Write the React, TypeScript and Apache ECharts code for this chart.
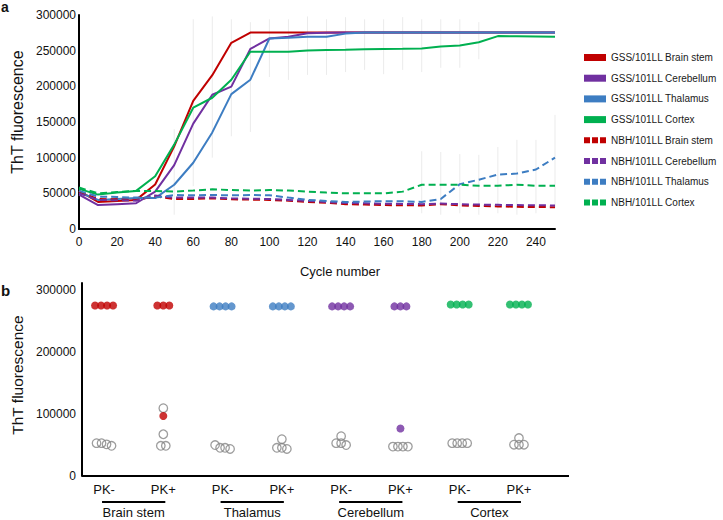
import React, { useEffect, useRef } from "react";
import * as echarts from "echarts";

// ---------- Panel a: ThT fluorescence vs cycle number ----------
const cycles = [0, 10, 20, 30, 40, 50, 60, 70, 80, 90, 100, 110, 120, 130, 140, 150, 160, 170, 180, 190, 200, 210, 220, 230, 240, 250];

const gssBrainStem = [53400, 37900, 39400, 40800, 62400, 115900, 179600, 215600, 261000, 275300, 275300, 275300, 275300, 275300, 275300, 275300, 275300, 275300, 275300, 275300, 275300, 275300, 275300, 275300, 275300, 275300];
const gssCerebellum = [48200, 33500, 34800, 36100, 52400, 89600, 147700, 188200, 199600, 252400, 267100, 269600, 274300, 275000, 275300, 275300, 275300, 275300, 275300, 275300, 275300, 275300, 275300, 275300, 275300, 275300];
const gssThalamus = [51400, 40800, 42100, 43300, 43300, 62000, 92900, 135400, 189100, 209300, 267100, 268100, 269600, 269600, 273900, 275300, 275300, 275300, 275300, 275300, 275300, 275300, 275300, 275300, 275300, 275300];
const gssCortex = [56300, 48200, 51000, 53400, 73900, 118300, 170000, 184000, 209300, 248400, 248400, 248400, 250400, 251000, 251400, 251900, 252400, 252600, 252900, 255700, 257100, 261900, 270400, 270300, 270000, 269600];

const nbhBrainStem = [52400, 42100, 41600, 40800, 45800, 42100, 42100, 43000, 41600, 41200, 40800, 39700, 37900, 36600, 34800, 34200, 33500, 33300, 33000, 34800, 33000, 32400, 31700, 31100, 30800, 30600];
const nbhCerebellum = [50000, 40800, 40300, 39700, 46900, 44000, 44000, 44000, 43000, 42500, 42100, 40800, 39400, 37900, 36600, 36100, 35300, 35200, 34800, 35700, 34800, 34200, 33900, 33500, 33300, 33000];
const nbhThalamus = [53400, 45400, 44900, 44000, 44000, 47600, 47300, 47600, 47300, 47600, 47300, 44000, 40800, 39400, 37900, 38500, 39000, 39000, 37900, 42100, 62900, 69100, 76300, 77700, 83400, 100000];
const nbhCortex = [58100, 50000, 51700, 53400, 53400, 52400, 53900, 55700, 54600, 53900, 54600, 53900, 52400, 51000, 50000, 50000, 50000, 52400, 62000, 62000, 62000, 60600, 60600, 62000, 60600, 60600];

// faint error bars (cycle, low, high)
const errCycles = [50, 60, 70, 80, 90, 100, 110, 120, 130, 140, 150, 160, 170, 180, 190, 200, 210, 180, 190, 200, 210, 220, 230, 240, 250];
const errLow = [20000, 60000, 100000, 130000, 136000, 213000, 209000, 216000, 216000, 220000, 223000, 217000, 223000, 220000, 226000, 226000, 238000, 22000, 20000, 22000, 20000, 22000, 20000, 22000, 30000];
const errHigh = [140000, 294000, 298000, 294000, 290000, 294000, 294000, 298000, 294000, 297000, 294000, 294000, 297000, 294000, 294000, 294000, 290000, 109000, 108000, 105000, 104000, 115000, 125000, 125000, 160000];

const xTicksTop = [0, 20, 40, 60, 80, 100, 120, 140, 160, 180, 200, 220, 240];

// ---------- Panel b: end-point ThT fluorescence ----------
const regions = ["Brain stem", "Thalamus", "Cerebellum", "Cortex"];
const treatments = ["PK-", "PK+"];
const gssDots = [
  [275700, 275700, 275700, 275700],
  [275700, 275700, 275700, 97000],
  [274200, 274200, 274200, 274200],
  [274200, 274200, 274200, 274200],
  [274200, 274200, 274200, 274200],
  [274200, 274200, 274200, 76900],
  [277200, 277200, 277200, 277200],
  [277200, 277200, 277200, 277200],
];
const nbhDots = [
  [48800, 53100, 53100, 51200],
  [109600, 67500, 48800, 48800],
  [45600, 50000, 45600, 43700],
  [45600, 59500, 45600, 43700],
  [53100, 64400, 53100, 50000],
  [47500, 47500, 47500, 47500],
  [53100, 53100, 53100, 53100],
  [50600, 61400, 50600, 50600],
];

const RED = "#C00000";
const PURPLE = "#7030A0";
const BLUE = "#3D7DC2";
const GREEN = "#00B050";
const regionColors = [RED, BLUE, PURPLE, GREEN];

const SANS = "'Liberation Sans', Arial, sans-serif";

function swarm(values: number[], cat: number, spacing: number, tol: number, color?: string) {
  const sorted = values.slice().sort((a, b) => b - a);
  const clusters: number[][] = [];
  for (const v of sorted) {
    const c = clusters.find((cl) => Math.abs(cl[0] - v) <= tol);
    if (c) c.push(v);
    else clusters.push([v]);
  }
  const out: any[] = [];
  clusters.forEach((cl) =>
    cl.forEach((v, i) => {
      const item: any = { value: [cat, v], symbolOffset: [(i - (cl.length - 1) / 2) * spacing, 0] };
      if (color) item.itemStyle = { color };
      out.push(item);
    })
  );
  return out;
}

export default function App() {
  const ref = useRef<HTMLDivElement>(null);
  useEffect(() => {
    document.body.style.margin = "0";
    const chart = echarts.init(ref.current!, null, { renderer: "svg" });

    const lineDefs = [
      { name: "GSS/101LL Brain stem", data: gssBrainStem, color: RED, dashed: false },
      { name: "GSS/101LL Cerebellum", data: gssCerebellum, color: PURPLE, dashed: false },
      { name: "GSS/101LL Thalamus", data: gssThalamus, color: BLUE, dashed: false },
      { name: "GSS/101LL Cortex", data: gssCortex, color: GREEN, dashed: false },
      { name: "NBH/101LL Brain stem", data: nbhBrainStem, color: RED, dashed: true },
      { name: "NBH/101LL Cerebellum", data: nbhCerebellum, color: PURPLE, dashed: true },
      { name: "NBH/101LL Thalamus", data: nbhThalamus, color: BLUE, dashed: true },
      { name: "NBH/101LL Cortex", data: nbhCortex, color: GREEN, dashed: true },
    ];

    const dashIcon = "path://M0 0H6V6H0Z M8 0H14V6H8Z M16 0H22V6H16Z";

    const catNames: string[] = [];
    regions.forEach((r) => treatments.forEach((t) => catNames.push(r + " " + t)));

    const gssScatter: any[] = [];
    gssDots.forEach((vals, i) => gssScatter.push(...swarm(vals, i, 6, 8000, regionColors[Math.floor(i / 2)])));
    const nbhScatter: any[] = [];
    nbhDots.forEach((vals, i) => nbhScatter.push(...swarm(vals, i, 5, 7000)));

    const axisLineStyle = { lineStyle: { color: "#000", width: 2 } };
    const plain = (v: number) => String(v);

    const option: any = {
      animation: false,
      backgroundColor: "#fff",
      textStyle: { fontFamily: SANS },
      legend: {
        orient: "vertical",
        left: 584,
        top: 51,
        padding: 0,
        itemWidth: 22,
        itemHeight: 7,
        itemGap: 7.7,
        textStyle: { fontSize: 10, color: "#1a1a1a", fontFamily: SANS, lineHeight: 13 },
        data: lineDefs.map((d) => ({ name: d.name, icon: d.dashed ? dashIcon : "rect" })),
      },
      grid: [
        { left: 79, top: 15, width: 476, height: 214 },
        { left: 74.4, top: 283, width: 474.2, height: 193 },
      ],
      xAxis: [
        {
          type: "value",
          gridIndex: 0,
          min: 0,
          max: 250,
          interval: 20,
          axisLine: axisLineStyle,
          axisTick: { show: false },
          splitLine: { show: false },
          axisLabel: { fontSize: 12, color: "#111", margin: 7, showMaxLabel: false,
            formatter: (v: number) => (xTicksTop.indexOf(v) >= 0 ? String(v) : "") },
          name: "Cycle number",
          nameLocation: "middle",
          nameGap: 36,
          nameTextStyle: { fontSize: 13, color: "#111", padding: [0, 0, 0, 46] },
        },
        {
          type: "category",
          gridIndex: 1,
          data: catNames,
          position: "bottom",
          axisLine: { show: false },
          axisTick: { show: false },
          axisLabel: { fontSize: 13, color: "#111", margin: 7, interval: 0,
            formatter: (v: string) => v.split(" ").pop() },
        },
        {
          type: "category",
          gridIndex: 1,
          data: regions,
          position: "bottom",
          axisLine: { show: false },
          axisTick: { show: false },
          axisLabel: { fontSize: 13, color: "#111", margin: 30, interval: 0 },
        },
      ],
      yAxis: [
        {
          type: "value",
          gridIndex: 0,
          min: 0,
          max: 300000,
          interval: 50000,
          axisLine: { show: true, ...axisLineStyle },
          axisTick: { show: false },
          splitLine: { show: false },
          axisLabel: { fontSize: 12, color: "#111", margin: 3, formatter: plain },
          name: "ThT fluorescence",
          nameLocation: "middle",
          nameGap: 47,
          nameTextStyle: { fontSize: 16, color: "#111", padding: [0, 0, 0, 20] },
        },
        {
          type: "value",
          gridIndex: 1,
          min: 0,
          max: 312000,
          interval: 100000,
          offset: -7.6,
          axisLine: { show: true, ...axisLineStyle },
          axisTick: { show: false },
          splitLine: { show: false },
          axisLabel: { fontSize: 12, color: "#111", margin: 6, showMaxLabel: false, formatter: plain },
          name: "ThT fluorescence",
          nameLocation: "middle",
          nameGap: 50,
          nameTextStyle: { fontSize: 15.5, color: "#111", padding: [0, 0, 0, 9] },
        },
      ],
      series: [
        {
          type: "custom",
          name: "error bars",
          xAxisIndex: 0,
          yAxisIndex: 0,
          silent: true,
          z: 1,
          data: errCycles.map((c, i) => [c, errLow[i], errHigh[i]]),
          renderItem: (_p: any, api: any) => {
            const a = api.coord([api.value(0), api.value(1)]);
            const b = api.coord([api.value(0), api.value(2)]);
            return { type: "line", shape: { x1: a[0], y1: a[1], x2: b[0], y2: b[1] }, style: { stroke: "#ebebeb", lineWidth: 1 } };
          },
        },
        ...lineDefs.map((d) => ({
          type: "line",
          name: d.name,
          xAxisIndex: 0,
          yAxisIndex: 0,
          showSymbol: false,
          z: d.dashed ? 3 : 2,
          data: cycles.map((c, i) => [c, d.data[i]]),
          itemStyle: { color: d.color },
          lineStyle: { color: d.color, width: 2, type: d.dashed ? [7, 4] : "solid" },
        })),
        {
          type: "scatter",
          name: "NBH end point",
          xAxisIndex: 1,
          yAxisIndex: 1,
          symbol: "circle",
          symbolSize: 8.5,
          itemStyle: { color: "rgba(0,0,0,0)", borderColor: "#858585", borderWidth: 1.3 },
          data: nbhScatter,
          z: 3,
        },
        {
          type: "scatter",
          name: "GSS end point",
          xAxisIndex: 1,
          yAxisIndex: 1,
          symbol: "circle",
          symbolSize: 8,
          data: gssScatter,
          z: 4,
        },
      ],
    };
    chart.setOption(option);

    const graphics: any[] = [
      { type: "text", id: "la", left: 1, top: 0, style: { text: "a", font: "bold 14px " + SANS, fill: "#111" } },
      { type: "text", id: "lb", left: 1, top: 283, style: { text: "b", font: "bold 15px " + SANS, fill: "#111" } },
      { type: "line", id: "bx", shape: { x1: 82, y1: 476, x2: 569, y2: 476 }, style: { stroke: "#000", lineWidth: 2 } },
    ];
    regions.forEach((_r, gi) => {
      const x1 = chart.convertToPixel({ xAxisIndex: 1 } as any, gi * 2) as unknown as number;
      const x2 = chart.convertToPixel({ xAxisIndex: 1 } as any, gi * 2 + 1) as unknown as number;
      graphics.push({
        type: "line",
        id: "u" + gi,
        shape: { x1: x1 - 2, y1: 502, x2: x2 + 2, y2: 502 },
        style: { stroke: "#000", lineWidth: 2 },
      });
    });
    chart.setOption({ graphic: graphics });

    return () => chart.dispose();
  }, []);
  return <div ref={ref} style={{ width: 723, height: 520 }} />;
}
